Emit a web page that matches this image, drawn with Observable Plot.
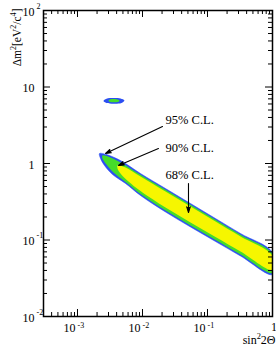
<!DOCTYPE html>
<html><head><meta charset="utf-8">
<script src="https://cdn.jsdelivr.net/npm/d3@7"></script>
<script src="https://cdn.jsdelivr.net/npm/@observablehq/plot@0.6"></script>
<style>html,body{margin:0;padding:0;background:#fff;} svg{display:block}</style>
</head><body><div id="chart"></div>
<script>
// 95% C.L. region (outer, blue)
const blueSin = [2.18e-3, 2.79e-3, 4.59e-3, 9.32e-3, 0.0226, 0.0548, 0.1328, 0.322, 1, 1, 0.322, 0.1328, 0.0548, 0.0226, 9.32e-3, 5.48e-3, 3.46e-3, 2.60e-3, 2.26e-3];
const blueDm  = [1.351, 1.311, 1.094, 0.740, 0.471, 0.300, 0.191, 0.1216, 0.0686, 0.0354, 0.0618, 0.0955, 0.1479, 0.2323, 0.3817, 0.548, 0.718, 0.942, 1.162];
// 90% C.L. region (green)
const greenSin = [2.42e-3, 3.22e-3, 4.59e-3, 9.32e-3, 0.0226, 0.0548, 0.1328, 0.322, 1, 1, 0.322, 0.1328, 0.0548, 0.0226, 9.32e-3, 5.48e-3, 3.58e-3, 2.79e-3, 2.42e-3];
const greenDm  = [1.272, 1.198, 1.031, 0.714, 0.4545, 0.2893, 0.1842, 0.1173, 0.0658, 0.0370, 0.0646, 0.1000, 0.1547, 0.2430, 0.3993, 0.573, 0.763, 0.970, 1.162];
// 68% C.L. region (yellow)
const yellowSin = [4.13e-3, 5.48e-3, 9.32e-3, 0.0226, 0.0548, 0.1328, 0.322, 1, 1, 0.322, 0.1328, 0.0548, 0.0226, 9.32e-3, 6.09e-3, 4.59e-3, 4.13e-3];
const yellowDm  = [0.942, 0.887, 0.676, 0.4305, 0.274, 0.1745, 0.1111, 0.0623, 0.0405, 0.0707, 0.1094, 0.1693, 0.266, 0.437, 0.582, 0.740, 0.860];
// island near 6.5 eV^2
const islandBlueSin = [2.51e-3, 2.79e-3, 3.58e-3, 4.59e-3, 5.28e-3, 4.75e-3, 3.58e-3, 2.79e-3];
const islandBlueDm  = [6.56, 7.03, 7.18, 7.07, 6.66, 6.18, 6.05, 6.18];
const islandGreenSin = [3.00e-3, 3.22e-3, 3.71e-3, 4.27e-3, 4.43e-3, 4.13e-3, 3.58e-3, 3.11e-3];
const islandGreenDm  = [6.66, 6.91, 6.97, 6.80, 6.56, 6.35, 6.31, 6.41];
// annotations
const clLabels = ["95% C.L.", "90% C.L.", "68% C.L."];
const clX = [0.0226, 0.0226, 0.0226];
const clY = [3.65, 1.571, 0.718];
const arrowX1 = [0.0203, 0.0176, 0.0510];
const arrowY1 = [3.045, 1.571, 0.548];
const arrowX2 = [2.70e-3, 4.27e-3, 0.0510];
const arrowY2 = [1.351, 0.942, 0.229];
// axes
const xDomain = [3e-4, 1];
const yDomain = [1e-2, 1e2];
const xMajor = [1e-3, 1e-2, 1e-1, 1];
const xBase = ["10", "10", "10", "1"];
const xExp = ["-3", "-2", "-1", ""];
const yMajor = [1e-2, 1e-1, 1, 10, 100];
const yBase = ["10", "10", "1", "10", "10"];
const yExp = ["-2", "-1", "", "", "2"];
const xTitle = "sin^{2}2\u0398";
const yTitle = "\u0394m^{2}[eV^{2}/c^{4}]";

const xMinor = [];
for (let e = -4; e <= -1; e++) for (let k = 2; k <= 9; k++) { const v = k * Math.pow(10, e); if (v > xDomain[0] && v < xDomain[1]) xMinor.push(v); }
const yMinor = [];
for (let e = -2; e <= 1; e++) for (let k = 2; k <= 9; k++) yMinor.push(k * Math.pow(10, e));

const width = 276, height = 347;
const mL = 43, mR = 4, mT = 10, mB = 31;
const W = width - mL - mR, H = height - mT - mB;
const majL = 7, minL = 4;
const cBlue = "#2b4ef2", cGreen = "#45dc2a", cYellow = "#f6f600";
const idx = a => a.map((_, i) => i);

const svg = Plot.plot({
  width, height, marginLeft: mL, marginRight: mR, marginTop: mT, marginBottom: mB,
  style: {fontFamily: "Liberation Serif, Times New Roman, serif", fontSize: "12px", background: "white", color: "black"},
  x: {type: "log", domain: xDomain, axis: null},
  y: {type: "log", domain: yDomain, axis: null},
  marks: [
    Plot.line(idx(blueSin), {x: i => blueSin[i], y: i => blueDm[i], fill: cBlue, stroke: cBlue, strokeWidth: 0.5, curve: "catmull-rom-closed", clip: true}),
    Plot.line(idx(greenSin), {x: i => greenSin[i], y: i => greenDm[i], fill: cGreen, stroke: null, curve: "catmull-rom-closed", clip: true}),
    Plot.line(idx(yellowSin), {x: i => yellowSin[i], y: i => yellowDm[i], fill: cYellow, stroke: null, curve: "catmull-rom-closed", clip: true}),
    Plot.line(idx(islandBlueSin), {x: i => islandBlueSin[i], y: i => islandBlueDm[i], fill: cBlue, stroke: null, curve: "catmull-rom-closed"}),
    Plot.line(idx(islandGreenSin), {x: i => islandGreenSin[i], y: i => islandGreenDm[i], fill: cGreen, stroke: null, curve: "catmull-rom-closed"}),
    Plot.arrow(idx(arrowX1), {x1: i => arrowX1[i], y1: i => arrowY1[i], x2: i => arrowX2[i], y2: i => arrowY2[i], stroke: "black", fill: "black", strokeWidth: 1.1, headLength: 8, headAngle: 35}),
    Plot.text(idx(clLabels), {x: i => clX[i], y: i => clY[i], text: i => clLabels[i], textAnchor: "start", fontSize: 12.5}),
    // ticks (inward, on all four sides)
    Plot.ruleY(yMajor, {insetRight: W - majL}),
    Plot.ruleY(yMajor, {insetLeft: W - majL}),
    Plot.ruleY(yMinor, {insetRight: W - minL}),
    Plot.ruleY(yMinor, {insetLeft: W - minL}),
    Plot.ruleX(xMajor, {insetTop: H - majL}),
    Plot.ruleX(xMajor, {insetBottom: H - majL}),
    Plot.ruleX(xMinor, {insetTop: H - minL}),
    Plot.ruleX(xMinor, {insetBottom: H - minL}),
    Plot.frame({stroke: "black", strokeWidth: 1.5}),
    // y tick labels
    Plot.text(idx(yMajor), {y: i => yMajor[i], frameAnchor: "left", text: i => yBase[i], textAnchor: "end", dx: -9, dy: 1.5, fontSize: 12}),
    Plot.text(idx(yMajor), {y: i => yMajor[i], frameAnchor: "left", text: i => yExp[i], textAnchor: "start", dx: -7, dy: -4.5, fontSize: 8}),
    // x tick labels
    Plot.text(idx(xMajor).filter(i => xExp[i] !== ""), {x: i => xMajor[i], frameAnchor: "bottom", text: i => xBase[i], textAnchor: "end", dx: -2, dy: 15.5, fontSize: 12}),
    Plot.text(idx(xMajor).filter(i => xExp[i] !== ""), {x: i => xMajor[i], frameAnchor: "bottom", text: i => xExp[i], textAnchor: "start", dx: 0, dy: 11, fontSize: 8}),
    Plot.text(idx(xMajor).filter(i => xExp[i] === ""), {x: i => xMajor[i], frameAnchor: "bottom", text: i => xBase[i], textAnchor: "middle", dx: 1.5, dy: 14.5, fontSize: 12}),
    // axis titles
    Plot.text([xTitle], {frameAnchor: "bottom-right", text: d => d, textAnchor: "end", dx: 3, dy: 27, fontSize: 12}),
    Plot.text([yTitle], {frameAnchor: "top-left", text: d => d, textAnchor: "end", rotate: -90, dx: -31, dy: -2, fontSize: 11.5})
  ]
});

// render ^{...} as superscript tspans
const NS = "http://www.w3.org/2000/svg";
svg.querySelectorAll("text").forEach(t => {
  const s = t.textContent;
  if (!s.includes("^{")) return;
  const fs = parseFloat(t.getAttribute("font-size") || t.closest("[font-size]")?.getAttribute("font-size") || 12);
  t.textContent = "";
  const re = /\^\{([^}]*)\}/g;
  let last = 0, m, up = false;
  const add = (str, sup) => {
    if (!str) return;
    const ts = document.createElementNS(NS, "tspan");
    ts.textContent = str;
    if (sup) { ts.setAttribute("dy", String(-0.4 * fs)); ts.setAttribute("font-size", String(0.7 * fs)); up = true; }
    else if (up) { ts.setAttribute("dy", String(0.4 * fs)); up = false; }
    t.appendChild(ts);
  };
  while ((m = re.exec(s))) { add(s.slice(last, m.index), false); add(m[1], true); last = re.lastIndex; }
  add(s.slice(last), false);
});

document.getElementById("chart").appendChild(svg);
</script>
</body></html>
